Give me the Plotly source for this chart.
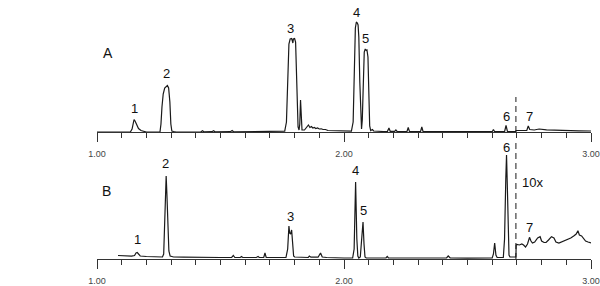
import plotly.graph_objects as go

# ---- Chromatogram A (time in min, signal in arbitrary units) ----
time_a = [1.00, 1.135, 1.142, 1.146, 1.150, 1.154, 1.160, 1.168, 1.178, 1.190, 1.20,
          1.255, 1.259, 1.263, 1.268, 1.274, 1.280, 1.285, 1.290, 1.295, 1.299, 1.303, 1.31, 1.32,
          1.42, 1.427, 1.433, 1.465, 1.472, 1.478, 1.54, 1.547, 1.553, 1.60, 1.64, 1.70, 1.76,
          1.767, 1.772, 1.777, 1.782, 1.788, 1.791, 1.793, 1.795, 1.800, 1.804, 1.808, 1.811, 1.814,
          1.818, 1.821, 1.824, 1.827, 1.830, 1.84, 1.848, 1.856, 1.862, 1.868, 1.874, 1.880, 1.886,
          1.893, 1.900, 1.908, 1.915, 1.925, 1.935, 1.95, 1.97, 2.00, 2.03,
          2.037, 2.042, 2.046, 2.050, 2.054, 2.057, 2.060, 2.064, 2.068, 2.071, 2.074, 2.078, 2.082,
          2.086, 2.090, 2.093, 2.097, 2.101, 2.104, 2.108, 2.115, 2.12, 2.13, 2.16, 2.176, 2.182,
          2.187, 2.205, 2.21, 2.215, 2.255, 2.26, 2.265, 2.31, 2.315, 2.32, 2.40, 2.50, 2.60, 2.605,
          2.61, 2.65, 2.656, 2.662, 2.694, 2.697, 2.74, 2.746, 2.752, 2.77, 2.79, 2.82, 2.88, 2.95, 3.00]
signal_a = [0, 0, 3, 9, 12.5, 11, 7, 3.5, 1.5, 0.3, 0,
            0, 8, 25, 38, 44, 46, 46.5, 44, 30, 8, 1, 0.5, 0,
            0, 1.2, 0.2, 0.3, 1.2, 0.2, 0.3, 1.5, 0.2, 0.3, 0.6, 0.6, 0.8,
            10, 55, 88, 93, 93.5, 91, 89, 93, 93.5, 90, 60, 20, 5,
            2, 8, 32, 8, 2, 2, 4, 7, 4.5, 5.5, 4, 4.5, 3.5,
            4, 3, 3.2, 2.5, 2.5, 1.5, 1.5, 1, 0.8, 0.8,
            10, 70, 104, 110, 109, 107, 95, 50, 10, 3, 12, 60, 80,
            83, 81.5, 82, 75, 35, 6, 1.5, 2.5, 1, 0.8, 0.5, 0.7, 4,
            0.7, 0.6, 2, 0.5, 0.5, 4.5, 0.5, 0.5, 5, 0.5, 0.3, 0.3, 0.3, 2.5,
            0.3, 0.3, 6.5, 0.3, 0.3, 1.5, 1.5, 6, 2.5, 2, 3, 2.2, 1.5, 1.2, 1]

# ---- Chromatogram B ----
time_b = [1.085, 1.10, 1.12, 1.14, 1.152, 1.158, 1.163, 1.168, 1.175, 1.20, 1.24, 1.265,
          1.270, 1.274, 1.278, 1.280, 1.283, 1.287, 1.291, 1.296, 1.31, 1.35, 1.40, 1.45, 1.50,
          1.545, 1.552, 1.558, 1.58, 1.585, 1.59, 1.645, 1.652, 1.657, 1.675, 1.68, 1.685, 1.70,
          1.765, 1.772, 1.777, 1.780, 1.784, 1.788, 1.792, 1.796, 1.80, 1.83, 1.855, 1.86, 1.866,
          1.895, 1.905, 1.912, 1.93, 2.00, 2.035, 2.041, 2.047, 2.052, 2.056, 2.060, 2.066, 2.070,
          2.077, 2.081, 2.085, 2.09, 2.17, 2.175, 2.18, 2.25, 2.30, 2.40, 2.415, 2.422, 2.43, 2.50,
          2.55, 2.60, 2.605, 2.610, 2.615, 2.62, 2.645, 2.650, 2.655, 2.658, 2.661, 2.664, 2.668,
          2.672, 2.69, 2.696, 2.697, 2.70, 2.71, 2.72, 2.727, 2.735, 2.743, 2.751, 2.757, 2.763,
          2.772, 2.784, 2.794, 2.800, 2.810, 2.818, 2.828, 2.840, 2.850, 2.858, 2.870, 2.880, 2.893,
          2.905, 2.918, 2.930, 2.940, 2.947, 2.953, 2.962, 2.970, 2.978, 2.988, 3.00]
signal_b = [3.5, 3.2, 3, 2.8, 3.5, 6, 6.5, 4.5, 3, 2.5, 2, 2,
            5, 30, 70, 83, 65, 30, 8, 3, 2, 1.8, 1.5, 1.5, 1.5,
            1.5, 3.5, 1.5, 1.5, 2.5, 1.5, 1.5, 2.5, 1.5, 1.5, 6, 1.5, 1.5,
            1.5, 10, 33, 26, 25, 29, 12, 3, 2, 1.8, 1.5, 3, 1.8,
            1.8, 6, 2, 1.5, 1, 1, 10, 77, 20, 3, 1, 2, 15,
            37, 15, 2, 1, 1, 2.5, 1, 1, 1, 1, 1, 3, 1, 0.8,
            0.8, 1, 5, 16, 4, 1.5, 1.5, 20, 80, 104, 75, 25, 4,
            2, 2, 2, 14, 14.5, 14, 15, 14, 12, 15, 21.7, 18, 16,
            17, 21, 22.3, 18, 16.5, 16.5, 19, 22.3, 21, 17, 16, 17, 18.5,
            19, 21, 23, 25, 28.3, 24, 23, 20, 18, 17, 16]

# 10x amplification starts here (min)
amp_start = 2.696
dash_top_a = 35
dash_top_b = 117

# peak labels: text, time, height
labels_a = ["1", "2", "3", "4", "5", "6", "7"]
lab_t_a = [1.150, 1.283, 1.785, 2.051, 2.089, 2.656, 2.750]
lab_y_a = [23.3, 58.7, 103.7, 120, 93.7, 15.3, 15.3]
labels_b = ["1", "2", "3", "4", "5", "6", "7"]
lab_t_b = [1.163, 1.279, 1.784, 2.046, 2.078, 2.658, 2.750]
lab_y_b = [19.7, 95.7, 43, 88.3, 49, 111.7, 31.7]

tick_vals = [1.0, 2.0, 3.0]
tick_text = ["1.00", "2.00", "3.00"]

LINE = "#1a1a1a"
FONT = "Liberation Sans, Arial, sans-serif"

fig = go.Figure()
fig.add_trace(go.Scatter(x=time_a, y=signal_a, mode="lines", xaxis="x", yaxis="y",
                         line=dict(color=LINE, width=1.2), showlegend=False))
fig.add_trace(go.Scatter(x=time_b, y=signal_b, mode="lines", xaxis="x2", yaxis="y2",
                         line=dict(color=LINE, width=1.2), showlegend=False))
fig.add_trace(go.Scatter(x=[amp_start, amp_start], y=[0, dash_top_a], mode="lines",
                         xaxis="x", yaxis="y", showlegend=False,
                         line=dict(color=LINE, width=1, dash="6px,4px")))
fig.add_trace(go.Scatter(x=[amp_start, amp_start], y=[0, dash_top_b], mode="lines",
                         xaxis="x2", yaxis="y2", showlegend=False,
                         line=dict(color=LINE, width=1, dash="6px,4px")))

ann = []
for txt, t, y in zip(labels_a, lab_t_a, lab_y_a):
    ann.append(dict(x=t, y=y, xref="x", yref="y", text=txt, showarrow=False,
                    font=dict(size=13, color="#111", family=FONT)))
for txt, t, y in zip(labels_b, lab_t_b, lab_y_b):
    ann.append(dict(x=t, y=y, xref="x2", yref="y2", text=txt, showarrow=False,
                    font=dict(size=13, color="#111", family=FONT)))
ann.append(dict(x=2.713, y=76.3, xref="x2", yref="y2", text="10x", showarrow=False,
                xanchor="left", font=dict(size=13, color="#111", family=FONT)))
ann.append(dict(x=1.045, y=79, xref="x", yref="y", text="A", showarrow=False,
                font=dict(size=14, color="#111", family=FONT)))
ann.append(dict(x=1.040, y=68.3, xref="x2", yref="y2", text="B", showarrow=False,
                font=dict(size=14, color="#111", family=FONT)))

xcommon = dict(range=[1.0, 3.0], showline=True, linecolor="#333", linewidth=1,
               ticks="outside", ticklen=9, tickwidth=1, tickcolor="#333",
               tickvals=tick_vals, ticktext=tick_text, showgrid=False, zeroline=False,
               tickfont=dict(size=9, color="#444", family=FONT),
               ticklabelstandoff=4,
               minor=dict(dtick=0.1, tick0=1.0, ticks="outside", ticklen=5,
                          tickwidth=1, tickcolor="#333", showgrid=False),
               automargin=False, fixedrange=True)

fig.update_layout(
    width=600, height=286,
    margin=dict(l=97, r=9, t=0, b=27),
    paper_bgcolor="white", plot_bgcolor="white",
    xaxis=dict(anchor="y", **xcommon),
    xaxis2=dict(anchor="y2", **xcommon),
    yaxis=dict(domain=[127 / 259, 1.0], range=[0, 132], visible=False),
    yaxis2=dict(domain=[0, 124 / 259], range=[0, 124], visible=False),
    annotations=ann,
)

fig.write_html("out.html")
